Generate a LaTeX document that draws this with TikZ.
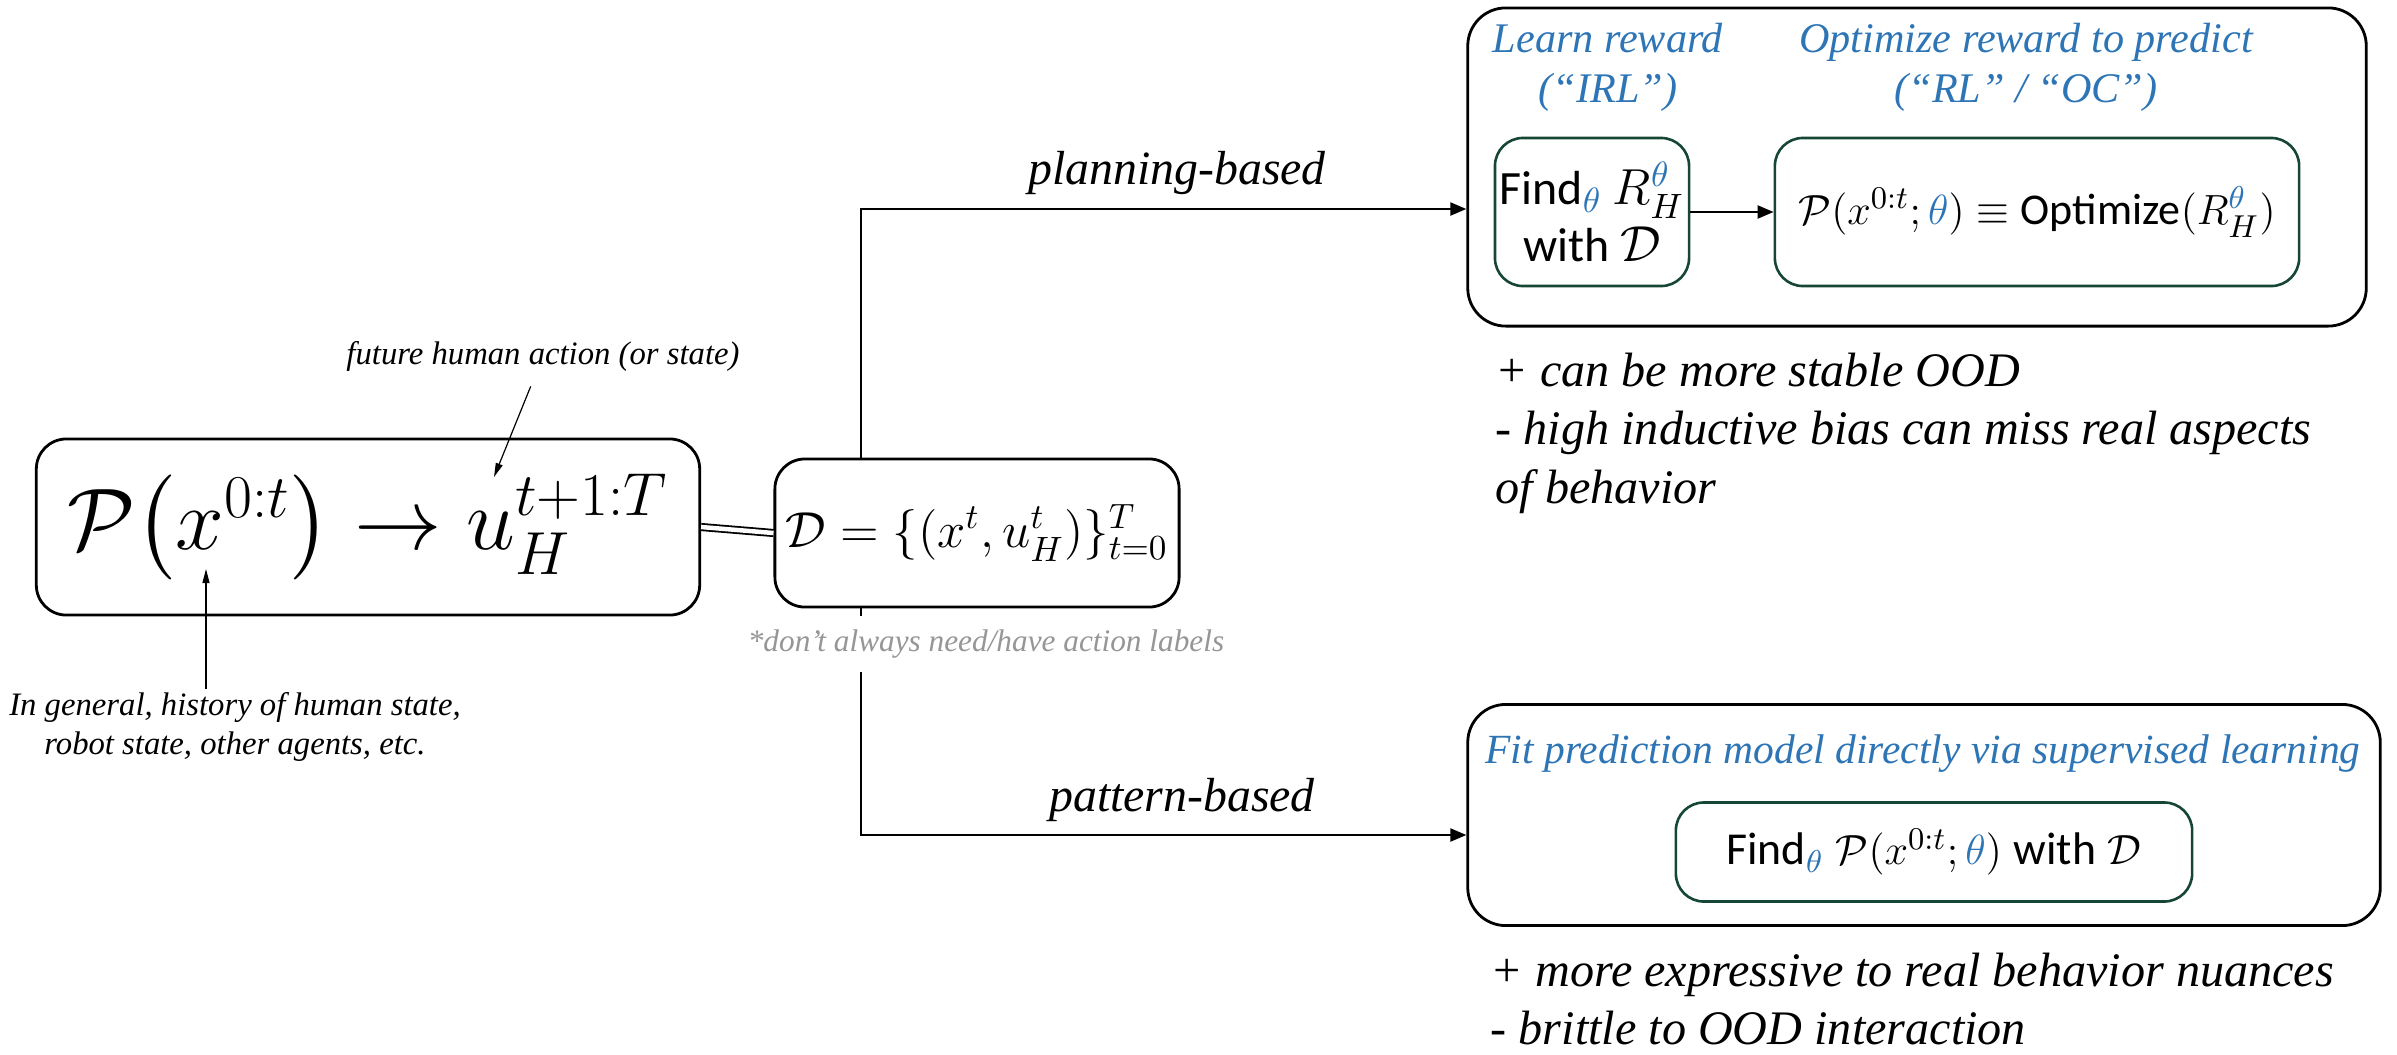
\documentclass[tikz,border=0pt]{standalone}
\usepackage{amsmath}
\usepackage{fontspec}
\newfontfamily\calib{Carlito}
\newfontfamily\serifit{Liberation Serif}
\usetikzlibrary{arrows.meta,calc}
\definecolor{ublue}{RGB}{46,117,182}
\definecolor{dgreen}{RGB}{22,70,52}
\definecolor{notegray}{RGB}{150,150,150}
\newcommand{\bth}{{\color{ublue}\theta}}
\newcommand{\cw}[1]{\mbox{\calib #1}}
\begin{document}
\begin{tikzpicture}[x=0.01cm,y=-0.01cm,
  outerbox/.style={draw,line width=0.028cm,rounded corners=0.38cm,inner sep=0pt},
  mainbox/.style={draw,line width=0.028cm,rounded corners=0.3cm,inner sep=0pt},
  greenbox/.style={draw=dgreen,line width=0.026cm,rounded corners=0.28cm,inner sep=0pt,align=center},
  conn/.style={line width=0.022cm,-{Triangle[length=0.16cm,width=0.13cm]}},
  annarrow/.style={line width=0.012cm,-{Triangle[length=0.14cm,width=0.07cm]}},
  heading/.style={text=ublue,font=\serifit\itshape\fontsize{12}{14.2}\selectfont,align=center},
  proscons/.style={font=\serifit\itshape\fontsize{13.7}{16.7}\selectfont,align=left,anchor=north west,inner sep=0pt},
  annot/.style={font=\serifit\itshape\fontsize{9.3}{10.9}\selectfont,align=center,inner sep=1pt},
  edgelabel/.style={font=\serifit\itshape\fontsize{13.6}{16}\selectfont,inner sep=0pt}]
\useasboundingbox (0,0) rectangle (2397,1054);

% prediction problem and data set
\node[mainbox,minimum width=6.63cm,minimum height=1.76cm,font=\fontsize{27}{32}\selectfont] (prob) at (368,527)
  {$\mathcal{P}\bigl(x^{0:t}\bigr)\rightarrow u_H^{t+1:T}$};
\node[mainbox,minimum width=4.04cm,minimum height=1.48cm,font=\fontsize{13.8}{16}\selectfont] (data) at (977,533)
  {$\mathcal{D}=\{(x^t,u_H^t)\}_{t=0}^{T}$};
\draw[line width=0.018cm,double,double distance=0.045cm] (prob.east) -- (data.east -| data.west);

% annotations on the prediction problem
\node[annot] (future) at (543,356) {future human action (or state)};
\coordinate (utip) at (494,477);
\draw[annarrow,shorten <=0.12cm] (future) -- (utip);
\node[annot] (history) at (235,727) {In general, history of human state,\\robot state, other agents, etc.};
\coordinate (xtip) at (206,569);
\draw[annarrow] (xtip |- history.north) -- (xtip);

% planning-based branch
\node[outerbox,minimum width=8.98cm,minimum height=3.18cm] (plan) at (1917,167) {};
\node[heading] (learnhd) at (1608,67) {Learn reward\\(“IRL”)};
\node[heading] (opthd) at (2026,67) {Optimize reward to predict\\(“RL” / “OC”)};
\node[greenbox,minimum width=1.94cm,minimum height=1.48cm,font=\calib\fontsize{13.6}{16.3}\selectfont] (findR) at (1592,212)
  {Find$_{\bth}$ $R_H^{\bth}$\\with $\mathcal{D}$};
\node[greenbox,minimum width=5.24cm,minimum height=1.48cm,font=\fontsize{12.5}{15}\selectfont] (optR) at (2037,212)
  {$\mathcal{P}(x^{0:t};\bth)\equiv\cw{Optimize}(R_H^{\bth})$};
\draw[conn] (findR) -- (optR);
\node[proscons] (planpc) at (1495,352)
  {+ can be more stable OOD\\- high inductive bias can miss real aspects\\of behavior};

% pattern-based branch
\node[outerbox,minimum width=9.12cm,minimum height=2.21cm] (patt) at (1924,815) {};
\node[heading,font=\serifit\itshape\fontsize{11.8}{14}\selectfont] (fithd) at (1923,754) {Fit prediction model directly via supervised learning};
\node[greenbox,minimum width=5.16cm,minimum height=0.99cm,font=\fontsize{13}{15.5}\selectfont] (findP) at (1934,852)
  {$\cw{Find}_{\bth}\;\mathcal{P}(x^{0:t};\bth)\;\cw{with}\;\mathcal{D}$};
\node[proscons] (pattpc) at (1490,952)
  {+ more expressive to real behavior nuances\\- brittle to OOD interaction};

% branches leaving the data set
\coordinate (planrow) at (0,209);
\coordinate (pattrow) at (0,835);
\draw[conn] ([xshift=-1.16cm]data.north) |- (plan.west |- planrow);
\draw[conn] ([xshift=-1.16cm]data.south) |- (patt.west |- pattrow);
\node[annot,text=notegray,fill=white,font=\serifit\itshape\fontsize{8.9}{10.5}\selectfont,inner sep=0.14cm] (note) at (986,644) {*don’t always need/have action labels};
\node[edgelabel] (planlbl) at (1177,173) {planning-based};
\node[edgelabel] (pattlbl) at (1182,800) {pattern-based};
\end{tikzpicture}
\end{document}
